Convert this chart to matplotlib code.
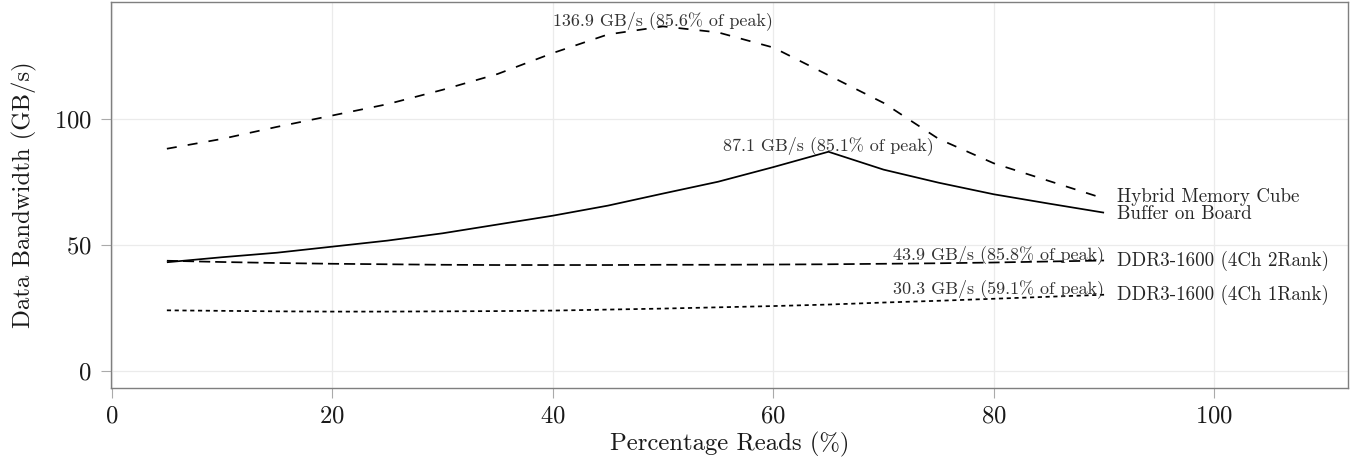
import numpy as np
import matplotlib
matplotlib.use("Agg")
import matplotlib.pyplot as plt

plt.rcParams["font.family"] = ["cmr10", "DejaVu Serif"]
plt.rcParams["mathtext.fontset"] = "cm"
plt.rcParams["axes.formatter.use_mathtext"] = True
plt.rcParams["lines.scale_dashes"] = False

# Percentage of read requests in the access mix
reads = [5, 10, 15, 20, 25, 30, 35, 40, 45, 50, 55, 60, 65, 70, 75, 80, 85, 90]

# Sustained data bandwidth in GB/s
hmc = [88.3, 92.2, 97.0, 101.5, 106.0, 111.7, 118.0, 126.3, 133.7, 136.9,
       134.5, 128.5, 117.5, 106.5, 92.2, 82.5, 75.5, 68.5]
bob = [43.2, 45.2, 47.0, 49.4, 51.8, 54.7, 58.2, 61.7, 65.7, 70.5,
       75.2, 81.0, 87.1, 80.0, 74.8, 70.2, 66.5, 62.9]
ddr_2rank = [43.8, 43.3, 42.9, 42.6, 42.4, 42.2, 42.1, 42.1, 42.1, 42.2,
             42.2, 42.3, 42.4, 42.6, 42.8, 43.1, 43.5, 43.9]
ddr_1rank = [24.1, 23.9, 23.7, 23.6, 23.6, 23.7, 23.8, 24.0, 24.4, 24.8,
             25.3, 25.8, 26.4, 27.2, 27.9, 28.7, 29.5, 30.3]

# Fraction of the theoretical peak reached at each series' best point
peak_pct = [85.6, 85.1, 85.8, 59.1]

names = ["Hybrid Memory Cube", "Buffer on Board",
         "DDR3-1600 (4Ch 2Rank)", "DDR3-1600 (4Ch 1Rank)"]
series = [hmc, bob, ddr_2rank, ddr_1rank]
dash_styles = [(0, (7.2, 8.0)), "solid", (0, (8.0, 3.6)), (0, (3.0, 2.6))]

x_ticks = [0, 20, 40, 60, 80, 100]
y_ticks = [0, 50, 100]

fig = plt.figure(figsize=(13.51, 4.65), dpi=100)
ax = fig.add_axes([0.0819, 0.1656, 0.9161, 0.8307])

text_col = "#262626"
for vals, ls in zip(series, dash_styles):
    ax.plot(reads, vals, color="black", linestyle=ls, linewidth=1.25,
            solid_capstyle="butt", dash_capstyle="butt")

# Peak annotations (last occurrence of the maximum)
for vals, pct in zip(series, peak_pct):
    arr = np.asarray(vals)
    i = len(arr) - 1 - int(np.argmax(arr[::-1]))
    ha = "right" if i == len(vals) - 1 else "center"
    ax.text(reads[i], vals[i] + 0.6, f"{vals[i]:.1f} GB/s ({pct:.1f}% of peak)",
            ha=ha, va="baseline", fontsize=13.0, color="#333333")

# End-of-line series labels, spread apart where they would collide
ends = [v[-1] for v in series]
order = np.argsort(ends)[::-1]
min_gap = 7.0
placed = [[idx, ends[idx]] for idx in order]
changed = True
while changed:
    changed = False
    for k in range(len(placed) - 1):
        a, b = placed[k], placed[k + 1]
        if a[1] - b[1] < min_gap - 1e-9:
            mid = (a[1] + b[1]) / 2
            a[1] = mid + min_gap / 2
            b[1] = mid - min_gap / 2
            changed = True
for idx, y in placed:
    ax.text(reads[-1] + 1.2, y, names[idx], ha="left", va="center",
            fontsize=13.7, color=text_col)

ax.set_xlim(-0.1, 112.15)
ax.set_ylim(-6.75, 146.7)
ax.set_xticks(x_ticks)
ax.set_yticks(y_ticks)
ax.grid(True, color="#ebebeb", linewidth=0.9)
ax.set_axisbelow(True)
for s in ax.spines.values():
    s.set_color("#7f7f7f")
    s.set_linewidth(1.0)
ax.tick_params(axis="both", direction="out", length=7.5, width=0.8,
               color="#aaaaaa", labelsize=17.8, labelcolor="#1a1a1a")
ax.tick_params(axis="x", pad=5)
ax.tick_params(axis="y", pad=6)

ax.set_xlabel("Percentage Reads (%)", fontsize=17.8, color="#1a1a1a", labelpad=3)
ax.set_ylabel("Data Bandwidth (GB/s)", fontsize=17.8, color="#1a1a1a", labelpad=12)

fig.savefig("out.png", dpi=100)
